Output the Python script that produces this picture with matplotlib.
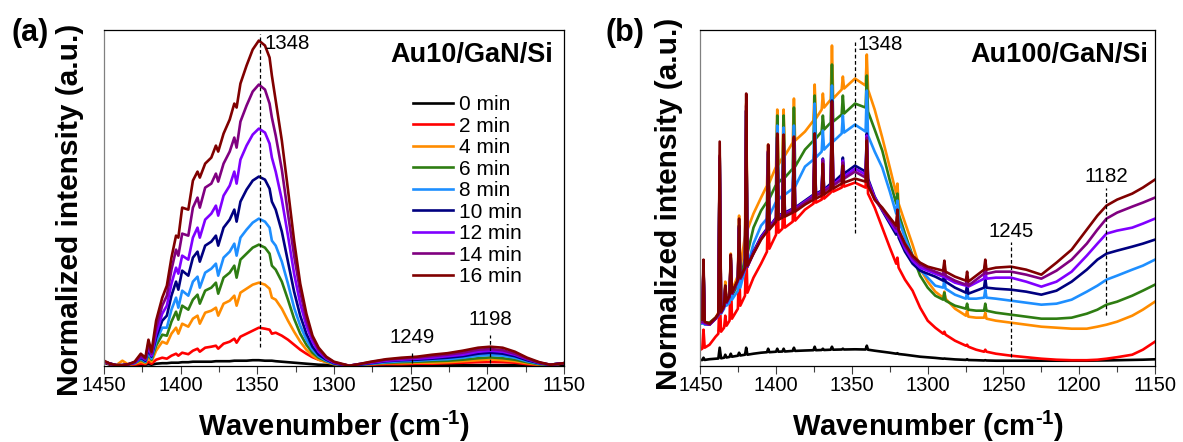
import matplotlib
matplotlib.use("Agg")
import matplotlib.pyplot as plt
from matplotlib.ticker import MultipleLocator

plt.rcParams['font.family'] = 'Liberation Sans'
plt.rcParams['mathtext.fontset'] = 'custom'
plt.rcParams['mathtext.rm'] = 'Liberation Sans:bold'
plt.rcParams['mathtext.bf'] = 'Liberation Sans:bold'

labels = ['0 min', '2 min', '4 min', '6 min', '8 min', '10 min', '12 min', '14 min', '16 min']
colors = ['#000000', '#ff0000', '#ff8c00', '#2e7d12', '#1e8fff',
          '#000080', '#8000ff', '#800080', '#800000']

# ---- panel (a): Au10/GaN/Si, intensity in a.u.
wn_a = [1450, 1446, 1442, 1438, 1434, 1430, 1426, 1423,
        1421, 1419, 1416, 1412, 1409, 1406, 1403, 1401.5,
        1399, 1395, 1392, 1389, 1387.5, 1384, 1380, 1377,
        1375.5, 1372, 1368, 1365, 1363.5, 1361, 1357, 1353,
        1349, 1345, 1342, 1340.5, 1338, 1334, 1330, 1326,
        1322, 1318, 1314, 1310, 1305, 1300, 1295, 1290,
        1284, 1276, 1266, 1256, 1246, 1236, 1226, 1216,
        1206, 1198, 1190, 1182, 1174, 1166, 1159, 1150]

a0 = [3, 1, 0.3, 0.3, 0.3, 0.5, 1, 1,
      1.5, 1, 2, 2.5, 2.5, 3, 3, 3,
      3.5, 3.5, 4, 4, 4, 4, 4, 4.5,
      4.5, 4.5, 4.5, 5, 5, 5, 5, 5.5,
      5.5, 5, 5, 5, 4.5, 4, 3.5, 3,
      2.5, 2, 1.5, 1, 0.8, 0.5, 0.3, 0,
      0.3, 0.5, 0.5, 0.5, 0.5, 0.5, 0.5, 0.5,
      0.5, 0.5, 0.5, 0.5, 0.5, 0.5, 0.5, 0.8]
a2 = [3.5, 1.5, 0.5, 0.5, 0.5, 1, 2, 1.5,
      4, 2, 6, 8, 7, 10, 12, 10,
      13, 11.5, 15, 17, 14, 18, 19, 20,
      17, 22, 24, 27, 23, 29, 32, 35,
      38, 37, 36, 32, 33, 30, 26, 21,
      16, 12, 8.5, 6, 4, 2, 1, 0,
      0.5, 1, 1.5, 1.5, 2, 2, 2.5, 3,
      3.5, 3.7, 3.5, 3, 1.5, 0.5, 0.5, 2.5]
a4 = [4, 2, 0.5, 5, 1, 2, 4, 2.5,
      8, 4, 15, 24, 22, 32, 38, 32,
      42, 39, 47, 50, 42, 53, 55, 58,
      50, 62, 65, 70, 60, 73, 77, 81,
      83, 81, 77, 68, 66, 57, 45, 34,
      24, 16, 10, 6, 3.5, 1.5, 0.5, 0,
      0.5, 1.5, 2.5, 2.5, 3, 3, 3.5, 4.5,
      5.5, 6.3, 5.5, 4.5, 2.5, 1, 0.5, 2.5]
a6 = [4, 2, 0.5, 0.5, 1.5, 2.5, 6, 3.5,
      11, 6, 20, 31, 30, 44, 54, 46,
      60, 56, 66, 71, 62, 75, 78, 83,
      72, 88, 93, 100, 88, 106, 112, 118,
      121, 118, 112, 100, 96, 84, 66, 47,
      32, 21, 13, 8, 4.5, 2, 1, 0,
      1, 2, 3, 3.5, 4, 4.5, 5, 6,
      7.5, 8.3, 7.5, 6, 3.5, 1.5, 1, 2.5]
a8 = [4, 2, 0.5, 0.5, 1.5, 2.5, 7, 4,
      13, 7, 24, 38, 38, 56, 68, 58,
      75, 70, 84, 89, 78, 93, 97, 102,
      90, 108, 114, 122, 110, 128, 136, 143,
      147, 144, 138, 125, 120, 104, 82, 58,
      40, 26, 16, 9.5, 5, 2, 1, 0,
      1, 2, 3.5, 4.5, 5, 6, 6.5, 8,
      10, 10.7, 10, 8, 4.5, 2, 1, 2.5]
a10 = [4, 2, 0.5, 0.5, 1.5, 3, 8, 5,
       16, 9, 28, 45, 50, 70, 84, 76,
       95, 90, 108, 114, 104, 120, 124, 130,
       120, 138, 146, 156, 144, 164, 176, 185,
       189, 186, 177, 164, 156, 134, 104, 74,
       50, 32, 19, 11, 6, 2.5, 1, 0,
       1, 2.5, 4.5, 5.5, 6, 7, 8, 9.5,
       12, 13, 12, 9.5, 5.5, 2.5, 1, 2.5]
a12 = [4, 2, 0.5, 0.5, 1.5, 3, 9, 6,
       19, 10, 32, 52, 60, 82, 98, 92,
       110, 106, 128, 138, 128, 146, 152, 160,
       150, 170, 180, 194, 182, 206, 220, 231,
       237, 233, 222, 208, 194, 166, 130, 92,
       62, 40, 24, 14, 7, 3, 1.5, 0,
       1.5, 3, 5, 6, 7, 8, 9.5, 11,
       14, 15, 14, 11, 6.5, 3, 1, 2.5]
a14 = [4, 2, 0.5, 0.5, 1.5, 3.5, 10, 7,
       22, 12, 38, 60, 70, 96, 116, 110,
       132, 130, 158, 168, 158, 178, 182, 192,
       184, 202, 214, 228, 218, 244, 260, 274,
       281, 276, 262, 248, 230, 196, 152, 110,
       74, 46, 28, 16, 8, 3.5, 1.5, 0,
       1.5, 3.5, 6, 7, 8, 9.5, 11, 13,
       16, 16.7, 15.5, 12, 7, 3, 1, 2.5]
a16 = [5, 2, 0.5, 0.5, 1.5, 4, 12, 8,
       26, 14, 45, 68, 80, 108, 130, 128,
       158, 156, 185, 194, 188, 202, 208, 220,
       214, 232, 246, 262, 258, 282, 300, 316,
       325, 320, 308, 290, 265, 225, 176, 125,
       82, 52, 30, 18, 9, 4, 2, 0,
       1.5, 4, 6.5, 8, 9, 11, 12.5, 15,
       18, 19, 18, 14, 8, 3.5, 1, 2.5]
series_a = [a0, a2, a4, a6, a8, a10, a12, a14, a16]
peaks_a = [1348, 1249, 1198]

# ---- panel (b): Au100/GaN/Si
wn_b = [1450, 1448.8, 1448, 1447.2, 1444, 1440, 1438.2, 1437.3, 1436.4, 1434.4,
        1433.6, 1432.8, 1430.8, 1430, 1429.2, 1425.3, 1424.5, 1423.7, 1420.6, 1419.8,
        1419, 1415, 1410, 1406.1, 1405.3, 1404.5, 1400.1, 1399.3, 1398.5, 1395.9,
        1395.1, 1394.3, 1389.1, 1388.3, 1387.5, 1381, 1375.4, 1374.6, 1373.8, 1370,
        1369.2, 1368.4, 1364, 1363.2, 1362.4, 1356.8, 1356, 1355.2, 1348, 1341,
        1340.2, 1339.4, 1335, 1330, 1325, 1320.8, 1320, 1319.2, 1315, 1310,
        1305, 1300, 1295, 1289.8, 1289, 1288.2, 1282, 1274.8, 1274, 1273.2,
        1268, 1262.8, 1262, 1261.2, 1255, 1245, 1235, 1225, 1215, 1205,
        1195, 1188, 1182, 1175, 1165, 1158, 1150]

b0 = [5.7, 5.7, 8, 5.8, 6.5, 7, 7.2, 18, 7.4, 8,
      11, 8.2, 8.8, 12, 9, 10, 13, 10.2, 11, 18,
      11, 12, 13, 13.5, 17, 13.5, 14, 17, 14, 14.2,
      17, 14.2, 14.8, 18, 14.8, 15.2, 15.5, 19, 15.5, 15.7,
      17, 15.7, 16, 19, 16, 16.2, 17, 16.2, 16.4, 16.2,
      20, 16, 15, 14, 13, 12, 12.5, 11.7, 11, 10,
      9, 8.4, 7.8, 7, 7.2, 7, 6.3, 5.8, 6.5, 5.7,
      5.5, 5.2, 5.5, 5.2, 5, 5, 5, 5, 5, 5,
      5, 5.2, 5.3, 5.5, 5.8, 6, 6.4]
b2 = [16, 17, 36, 18, 21, 29, 32, 70, 34, 38,
      50, 40, 45, 95, 47, 57, 100, 60, 70, 118,
      73, 88, 102, 114, 160, 117, 131, 190, 133, 137,
      185, 138, 144, 200, 145, 156, 162, 215, 163, 166,
      185, 167, 173, 245, 174, 178, 190, 179, 183, 178,
      215, 172, 158, 138, 118, 102, 108, 98, 86, 75,
      58, 45, 38, 32, 34, 31, 25, 20, 21, 19,
      16, 14, 16, 14, 12, 10, 8.5, 7, 6, 5.5,
      5.5, 6, 7, 8.5, 11, 16, 24]
b4 = [44, 44, 98, 43, 43, 48, 53, 210, 57, 64,
      84, 67, 72, 112, 75, 90, 150, 96, 130, 262,
      136, 152, 168, 180, 221, 183, 199, 256, 201, 208,
      256, 210, 223, 267, 225, 234, 245, 281, 247, 256,
      272, 258, 266, 320, 267, 276, 289, 277, 287, 280,
      311, 276, 256, 228, 198, 172, 182, 162, 143, 121,
      97, 84, 74, 68, 74, 67, 57, 50, 55, 49,
      48, 48, 53, 47, 45, 43, 41, 39, 38, 37,
      37, 39, 41, 44, 50, 56, 64]
b6 = [44, 44, 98, 43, 43, 48, 51, 208, 53, 60,
      80, 63, 67, 108, 70, 81, 140, 84, 108, 255,
      112, 138, 155, 164, 212, 167, 181, 250, 183, 187,
      250, 188, 197, 258, 199, 216, 225, 270, 227, 234,
      250, 236, 243, 301, 244, 251, 270, 252, 262, 258,
      290, 254, 236, 215, 185, 162, 172, 152, 132, 110,
      90, 78, 70, 66, 73, 65, 60, 57, 62, 56,
      55, 55, 62, 55, 53, 51, 49, 47, 47, 48,
      52, 56, 61, 64, 70, 75, 81]
b8 = [42, 42, 96, 41, 42, 47, 50, 205, 52, 57,
      76, 60, 63, 104, 66, 75, 136, 78, 96, 250,
      99, 122, 140, 147, 205, 150, 164, 240, 166, 170,
      238, 171, 177, 240, 179, 199, 206, 262, 208, 214,
      235, 216, 223, 280, 224, 232, 250, 233, 241, 234,
      275, 230, 214, 198, 174, 152, 165, 146, 128, 109,
      96, 88, 80, 78, 86, 77, 71, 67, 74, 67,
      67, 68, 76, 68, 67, 65, 63, 61, 62, 66,
      74, 80, 86, 90, 96, 100, 106]
b10 = [43, 43, 98, 42, 41, 47, 51, 208, 53, 59,
       78, 63, 69, 106, 72, 85, 138, 87, 97, 255,
       99, 114, 129, 137, 214, 139, 148, 229, 150, 152,
       229, 153, 157, 227, 158, 165, 171, 232, 172, 175,
       207, 176, 182, 265, 183, 191, 208, 192, 200, 194,
       232, 187, 169, 155, 142, 131, 147, 128, 114, 102,
       95, 92, 89, 85, 94, 84, 78, 73, 81, 72,
       75, 78, 87, 78, 77, 76, 74, 71, 75, 84,
       96, 106, 112, 115, 119, 122, 126]
b12 = [43, 43, 98, 42, 41, 47, 51, 208, 53, 59,
       78, 63, 69, 106, 72, 85, 138, 87, 97, 255,
       99, 113, 128, 136, 214, 138, 147, 228, 149, 151,
       228, 152, 156, 226, 157, 164, 170, 231, 171, 174,
       206, 175, 180, 263, 181, 188, 205, 189, 197, 191,
       230, 185, 168, 156, 144, 134, 150, 131, 117, 105,
       98, 95, 92, 89, 98, 88, 83, 80, 88, 79,
       83, 87, 96, 87, 88, 88, 84, 79, 84, 94,
       110, 122, 132, 135, 138, 142, 147]
b14 = [44, 44, 100, 43, 41, 47, 51, 210, 53, 59,
       78, 63, 69, 108, 72, 85, 140, 87, 97, 260,
       99, 112, 127, 135, 215, 137, 146, 228, 148, 150,
       228, 151, 155, 226, 156, 163, 169, 230, 170, 173,
       205, 174, 179, 262, 180, 186, 203, 187, 194, 188,
       228, 183, 166, 156, 146, 137, 152, 134, 120, 108,
       101, 97, 94, 91, 100, 90, 85, 81, 89, 80,
       86, 92, 101, 92, 94, 94, 91, 87, 95, 106,
       122, 136, 147, 153, 159, 163, 168]
b16 = [46, 46, 106, 44, 42, 48, 52, 224, 54, 60,
       80, 64, 70, 111, 73, 86, 147, 88, 98, 272,
       100, 112, 126, 134, 221, 136, 144, 232, 146, 148,
       231, 149, 153, 229, 154, 161, 166, 232, 167, 170,
       202, 171, 176, 264, 177, 182, 200, 183, 187, 184,
       225, 180, 166, 158, 148, 140, 156, 136, 122, 110,
       103, 99, 97, 95, 105, 94, 89, 85, 94, 84,
       90, 96, 106, 96, 98, 99, 96, 91, 103, 116,
       136, 150, 160, 166, 172, 178, 186]
series_b = [b0, b2, b4, b6, b8, b10, b12, b14, b16]
peaks_b = [1348, 1245, 1182]


def style_axes(ax):
    ax.set_xlim(1450, 1150)
    ax.set_ylim(0, 336)
    ax.xaxis.set_major_locator(MultipleLocator(50))
    ax.xaxis.set_minor_locator(MultipleLocator(25))
    ax.tick_params(axis='x', which='major', direction='out', length=6, width=0.8,
                   labelsize=14.5, pad=1.5, color='#404040')
    ax.tick_params(axis='x', which='minor', direction='out', length=4, width=0.8,
                   color='#404040')
    ax.set_yticks([])
    for sp in ax.spines.values():
        sp.set_linewidth(0.9)
        sp.set_color('black')
    ax.spines['left'].set_color('#808080')
    ax.set_xlabel('Wavenumber (cm$^{\\text{-1}}$)', fontsize=21, fontweight='bold', labelpad=10)
    ax.set_ylabel('Normalized intensity (a.u.)', fontsize=21.5, fontweight='bold')


def peak_marker(ax, x, y0, y1):
    ax.axvline(x, ymin=y0, ymax=y1, color='black', lw=0.9, ls=(0, (3, 2)), zorder=5)


fig = plt.figure(figsize=(11.83, 4.42), dpi=100)
ax_a = fig.add_axes([0.0879, 0.1726, 0.3888, 0.7606])
ax_b = fig.add_axes([0.5921, 0.1726, 0.3842, 0.7606])

lines_a = []
for y, c in zip(series_a, colors):
    ln, = ax_a.plot(wn_a, y, color=c, lw=1.9)
    lines_a.append(ln)
for y, c in zip(series_b, colors):
    ax_b.plot(wn_b, y, color=c, lw=1.9)

style_axes(ax_a)
style_axes(ax_b)
ax_a.yaxis.set_label_coords(-0.0437, 0.463)
ax_b.yaxis.set_label_coords(-0.0385, 0.4825)

# peak positions, panel (a)
peak_marker(ax_a, peaks_a[0], 0.057, 0.988)
ax_a.annotate(str(peaks_a[0]), xy=(peaks_a[0], 0.958), xycoords=('data', 'axes fraction'),
              xytext=(3, 0), textcoords='offset points', ha='left', va='center', fontsize=14.7)
peak_marker(ax_a, peaks_a[1], 0.008, 0.042)
ax_a.annotate(str(peaks_a[1]), xy=(peaks_a[1], 0.083), xycoords=('data', 'axes fraction'),
              ha='center', va='center', fontsize=14.7)
peak_marker(ax_a, peaks_a[2], 0.008, 0.091)
ax_a.annotate(str(peaks_a[2]), xy=(peaks_a[2], 0.136), xycoords=('data', 'axes fraction'),
              ha='center', va='center', fontsize=14.7)

# peak positions, panel (b)
peak_marker(ax_b, peaks_b[0], 0.394, 0.964)
ax_b.annotate(str(peaks_b[0]), xy=(peaks_b[0], 0.954), xycoords=('data', 'axes fraction'),
              xytext=(2, 0), textcoords='offset points', ha='left', va='center', fontsize=14.7)
peak_marker(ax_b, peaks_b[1], 0.027, 0.369)
ax_b.annotate(str(peaks_b[1]), xy=(peaks_b[1], 0.399), xycoords=('data', 'axes fraction'),
              ha='center', va='center', fontsize=14.7)
peak_marker(ax_b, peaks_b[2], 0.151, 0.528)
ax_b.annotate(str(peaks_b[2]), xy=(peaks_b[2], 0.562), xycoords=('data', 'axes fraction'),
              ha='center', va='center', fontsize=14.7)

ax_a.text(0.976, 0.924, 'Au10/GaN/Si', transform=ax_a.transAxes, ha='right', va='center',
          fontsize=19.5, fontweight='bold')
ax_b.text(0.9846, 0.924, 'Au100/GaN/Si', transform=ax_b.transAxes, ha='right', va='center',
          fontsize=19.5, fontweight='bold')

ax_a.legend(lines_a, labels, loc='upper left', bbox_to_anchor=(0.6726, 0.805), frameon=False,
            fontsize=15, handlelength=1.9, handletextpad=0.3, labelspacing=0.12,
            borderpad=0, borderaxespad=0)

fig.text(0.0093, 0.925, '(a)', fontsize=22, fontweight='bold', ha='left', va='center')
fig.text(0.512, 0.925, '(b)', fontsize=22, fontweight='bold', ha='left', va='center')

fig.savefig('out.png', dpi=100)
